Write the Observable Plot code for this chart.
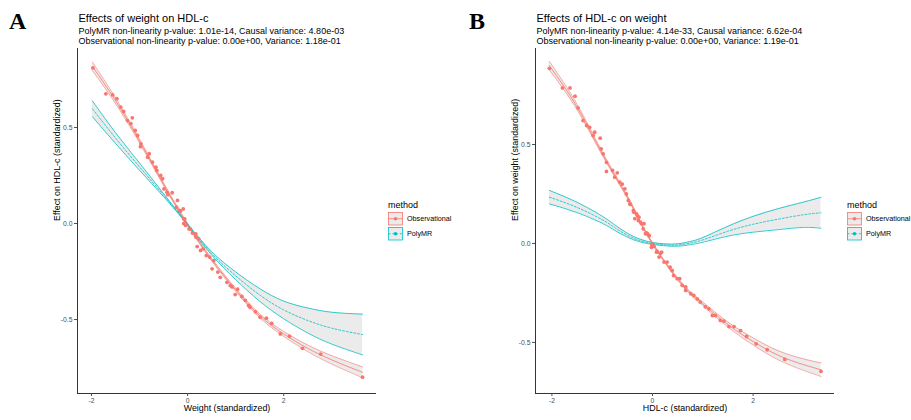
<!DOCTYPE html>
<html><head><meta charset="utf-8">
<script src="https://cdn.jsdelivr.net/npm/d3@7"></script>
<script src="https://cdn.jsdelivr.net/npm/@observablehq/plot@0.6"></script>
<style>
body{margin:0;background:#fff;}
#wrap{position:relative;width:911px;height:420px;overflow:hidden;background:#fff;font-family:"Liberation Sans",Arial,sans-serif;}
.panel{position:absolute;top:0;}
.legend{position:absolute;}
#tags{position:absolute;left:0;top:0;}
</style></head><body><div id="wrap"></div>
<script>
const RED = "#F8766D", CYAN = "#00BFC4";
const methods = ["Observational", "PolyMR"];
const legendTitle = "method";
const tags = ["A", "B"];

// ---------- Panel A: Effects of weight on HDL-c ----------
const titleA = "Effects of weight on HDL-c";
const subA1 = "PolyMR non-linearity p-value: 1.01e-14, Causal variance: 4.80e-03";
const subA2 = "Observational non-linearity p-value: 0.00e+00, Variance: 1.18e-01";
const xLabelA = "Weight (standardized)";
const yLabelA = "Effect on HDL-c (standardized)";
const xTicksA = [-2, 0, 2];
const yTicksA = [-0.5, 0, 0.5];

const ptsA_x = [-1.97,-1.70,-1.56,-1.47,-1.39,-1.33,-1.25,-1.18,-1.15,-1.09,-1.04,-0.97,-0.98,-0.80,-0.83,-0.73,-0.66,-0.64,-0.56,-0.52,-0.49,-0.43,-0.32,-0.41,-0.21,-0.23,-0.17,-0.145,-0.09,-0.08,-0.06,-0.08,-0.04,0.03,0.06,0.10,0.17,0.17,0.23,0.20,0.27,0.325,0.39,0.46,0.545,0.51,0.63,0.68,0.82,0.89,0.925,1.04,0.99,1.13,1.20,1.27,1.30,1.41,1.51,1.64,1.75,1.93,2.12,2.39,2.77,3.64];
const ptsA_y = [0.81,0.675,0.67,0.65,0.606,0.583,0.536,0.52,0.55,0.484,0.458,0.415,0.40,0.363,0.345,0.32,0.293,0.276,0.25,0.233,0.18,0.163,0.16,0.15,0.12,0.085,0.068,0.065,0.076,0.024,0.024,0.0,-0.01,-0.028,-0.028,-0.05,-0.054,-0.07,-0.08,-0.12,-0.14,-0.132,-0.167,-0.175,-0.193,-0.236,-0.253,-0.28,-0.306,-0.323,-0.33,-0.342,-0.37,-0.38,-0.40,-0.427,-0.436,-0.46,-0.488,-0.493,-0.52,-0.575,-0.587,-0.65,-0.68,-0.80];

const obsA_x   = [-1.98, -1.5, -1.0, -0.5, 0, 0.5, 1.0, 1.5, 2.0, 2.5, 3.0, 3.64];
const obsA_fit = [0.818, 0.64, 0.43, 0.205, -0.005, -0.188, -0.345, -0.48, -0.575, -0.65, -0.71, -0.775];
const obsA_lo  = [0.796, 0.625, 0.420, 0.198, -0.011, -0.195, -0.353, -0.490, -0.588, -0.667, -0.732, -0.803];
const obsA_hi  = [0.840, 0.655, 0.440, 0.212, 0.001, -0.181, -0.337, -0.470, -0.562, -0.633, -0.688, -0.747];

const polyA_x   = [-1.98, -1.5, -1.0, -0.5, 0, 0.5, 1.0, 1.5, 2.0, 2.5, 3.0, 3.64];
const polyA_fit = [0.597, 0.445, 0.295, 0.148, -0.005, -0.155, -0.272, -0.372, -0.45, -0.505, -0.545, -0.578];
const polyA_lo  = [0.556, 0.417, 0.277, 0.140, -0.008, -0.164, -0.292, -0.405, -0.496, -0.570, -0.628, -0.684];
const polyA_hi  = [0.638, 0.473, 0.315, 0.156, -0.002, -0.146, -0.252, -0.339, -0.404, -0.440, -0.462, -0.472];

// ---------- Panel B: Effects of HDL-c on weight ----------
const titleB = "Effects of HDL-c on weight";
const subB1 = "PolyMR non-linearity p-value: 4.14e-33, Causal variance: 6.62e-04";
const subB2 = "Observational non-linearity p-value: 0.00e+00, Variance: 1.19e-01";
const xLabelB = "HDL-c (standardized)";
const yLabelB = "Effect on weight (standardized)";
const xTicksB = [-2, 0, 2];
const yTicksB = [-0.5, 0, 0.5];

const ptsB_x = [-2.05,-1.79,-1.64,-1.54,-1.48,-1.38,-1.31,-1.25,-1.18,-1.15,-1.04,-1.02,-0.98,-0.915,-0.915,-0.795,-0.75,-0.70,-0.65,-0.60,-0.55,-0.52,-0.48,-0.45,-0.44,-0.38,-0.37,-0.35,-0.32,-0.30,-0.28,-0.27,-0.24,-0.22,-0.185,-0.17,-0.14,-0.12,-0.10,-0.07,-0.066,-0.02,-0.01,0.01,0.03,0.08,0.09,0.13,0.16,0.18,0.23,0.29,0.35,0.39,0.42,0.49,0.54,0.59,0.66,0.66,0.76,0.82,0.89,0.95,1.05,1.12,1.19,1.25,1.35,1.42,1.52,1.62,1.75,1.87,2.06,2.28,2.63,3.35];
const ptsB_y = [0.885,0.786,0.786,0.744,0.685,0.621,0.596,0.587,0.545,0.562,0.532,0.478,0.453,0.41,0.364,0.369,0.335,0.357,0.31,0.30,0.276,0.25,0.217,0.20,0.197,0.167,0.158,0.125,0.15,0.141,0.116,0.133,0.108,0.10,0.074,0.10,0.049,0.054,0.049,0.04,0.04,-0.019,-0.005,-0.01,-0.015,-0.044,-0.039,-0.069,-0.049,-0.044,-0.094,-0.094,-0.12,-0.136,-0.162,-0.178,-0.178,-0.212,-0.22,-0.237,-0.254,-0.263,-0.28,-0.296,-0.32,-0.33,-0.364,-0.364,-0.389,-0.392,-0.42,-0.42,-0.44,-0.47,-0.507,-0.537,-0.586,-0.646];

const obsB_x   = [-2.05, -1.5, -1.0, -0.5, -0.25, 0, 0.25, 0.5, 0.75, 1.0, 1.5, 2.0, 2.5, 3.0, 3.35];
const obsB_fit = [0.898, 0.69, 0.455, 0.235, 0.112, 0.0, -0.095, -0.18, -0.25, -0.305, -0.41, -0.495, -0.565, -0.612, -0.638];
const obsB_lo  = [0.876, 0.676, 0.446, 0.229, 0.107, -0.005, -0.100, -0.186, -0.257, -0.314, -0.423, -0.513, -0.588, -0.641, -0.672];
const obsB_hi  = [0.920, 0.704, 0.464, 0.241, 0.117, 0.005, -0.090, -0.174, -0.243, -0.296, -0.397, -0.477, -0.542, -0.583, -0.604];

const polyB_x   = [-2.05, -1.5, -1.0, -0.75, -0.5, -0.25, 0, 0.25, 0.5, 0.75, 1.0, 1.5, 2.0, 2.5, 3.0, 3.35];
const polyB_fit = [0.234, 0.182, 0.12, 0.08, 0.042, 0.015, 0.0, -0.007, -0.008, 0.002, 0.018, 0.062, 0.097, 0.123, 0.145, 0.155];
const polyB_lo  = [0.200, 0.156, 0.102, 0.066, 0.032, 0.008, -0.005, -0.012, -0.014, -0.006, 0.006, 0.037, 0.057, 0.070, 0.081, 0.077];
const polyB_hi  = [0.268, 0.208, 0.138, 0.094, 0.052, 0.022, 0.005, -0.002, -0.002, 0.010, 0.030, 0.087, 0.137, 0.176, 0.209, 0.233];

// ---------- drawing ----------
const FONT = '"Liberation Sans", Arial, Helvetica, sans-serif';

function rows(xs, fit, lo, hi) {
  return xs.map((x, i) => ({x, fit: fit[i], lo: lo[i], hi: hi[i]}));
}

function panel(cfg) {
  const obs = rows(cfg.obsX, cfg.obsFit, cfg.obsLo, cfg.obsHi);
  const poly = rows(cfg.polyX, cfg.polyFit, cfg.polyLo, cfg.polyHi);
  const pts = cfg.ptsX.map((x, i) => ({x, y: cfg.ptsY[i]}));
  const curve = "natural";
  const T = d => d;
  return Plot.plot({
    width: 380, height: 420,
    marginLeft: 77, marginRight: 4, marginTop: 48, marginBottom: 27,
    x: {domain: cfg.xDomain},
    y: {domain: cfg.yDomain},
    style: {fontFamily: FONT, background: "transparent", overflow: "visible"},
    marks: [
      Plot.areaY(poly, {x: "x", y1: "lo", y2: "hi", fill: "#999999", fillOpacity: 0.2, curve}),
      Plot.areaY(obs, {x: "x", y1: "lo", y2: "hi", fill: "#999999", fillOpacity: 0.2, curve}),
      Plot.line(obs, {x: "x", y: "lo", stroke: RED, strokeWidth: 0.6, curve}),
      Plot.line(obs, {x: "x", y: "hi", stroke: RED, strokeWidth: 0.6, curve}),
      Plot.line(poly, {x: "x", y: "lo", stroke: CYAN, strokeWidth: 0.8, curve}),
      Plot.line(poly, {x: "x", y: "hi", stroke: CYAN, strokeWidth: 0.8, curve}),
      Plot.line(obs, {x: "x", y: "fit", stroke: RED, strokeWidth: 0.8, curve}),
      Plot.line(poly, {x: "x", y: "fit", stroke: CYAN, strokeWidth: 0.8, strokeDasharray: "2,1.8", curve}),
      Plot.dot(pts, {x: "x", y: "y", r: 1.9, fill: RED, stroke: "none"}),
      Plot.ruleX([cfg.xDomain[0]], {stroke: "#000", strokeWidth: 0.8}),
      Plot.ruleY([cfg.yDomain[0]], {stroke: "#000", strokeWidth: 0.8}),
      Plot.axisX({ticks: cfg.xTicks, tickSize: 3, tickPadding: 2, tickFormat: d => String(d), fontSize: 6.8, color: "#4d4d4d", label: null}),
      Plot.axisY({ticks: cfg.yTicks, tickSize: 3, tickPadding: 2, tickFormat: d => d.toFixed(1), fontSize: 6.8, color: "#4d4d4d", label: null}),
      Plot.text([cfg.xLabel], {text: T, frameAnchor: "bottom", dy: 17, fontSize: 8.9, fill: "#000"}),
      Plot.text([cfg.yLabel], {text: T, frameAnchor: "left", dx: -20, rotate: -90, fontSize: 8.9, fill: "#000"}),
      Plot.text([cfg.title], {text: T, frameAnchor: "top-left", dx: 1, dy: -34, textAnchor: "start", fontSize: 11, fill: "#000"}),
      Plot.text([cfg.sub1], {text: T, frameAnchor: "top-left", dx: 1, dy: -21, textAnchor: "start", fontSize: 9, fill: "#000"}),
      Plot.text([cfg.sub2], {text: T, frameAnchor: "top-left", dx: 1, dy: -10.5, textAnchor: "start", fontSize: 9, fill: "#000"})
    ]
  });
}

function legend() {
  const colors = [RED, CYAN];
  const svg = d3.create("svg").attr("width", 80).attr("height", 48)
    .style("font-family", FONT).style("overflow", "visible");
  svg.append("text").attr("x", 2).attr("y", 10).attr("font-size", 9).attr("fill", "#000").text(legendTitle);
  methods.forEach((m, i) => {
    const y0 = 14.5 + i * 15, cy = y0 + 6.25;
    svg.append("rect").attr("x", 2.5).attr("y", y0).attr("width", 14).attr("height", 12.5)
      .attr("fill", "#999999").attr("fill-opacity", 0.2).attr("stroke", colors[i]).attr("stroke-width", 0.8);
    svg.append("line").attr("x1", 2.5).attr("x2", 16.5).attr("y1", cy).attr("y2", cy)
      .attr("stroke", colors[i]).attr("stroke-width", 0.8)
      .attr("stroke-dasharray", i === 1 ? "2,1.8" : null);
    svg.append("circle").attr("cx", 9.5).attr("cy", cy).attr("r", 1.8).attr("fill", colors[i]);
    svg.append("text").attr("x", 21).attr("y", cy).attr("dy", "0.35em").attr("font-size", 7.2).attr("fill", "#000").text(m);
  });
  return svg.node();
}

const wrap = document.getElementById("wrap");

const A = panel({
  title: titleA, sub1: subA1, sub2: subA2, xLabel: xLabelA, yLabel: yLabelA,
  xTicks: xTicksA, yTicks: yTicksA, xDomain: [-2.29, 3.93], yDomain: [-0.885, 0.911],
  ptsX: ptsA_x, ptsY: ptsA_y,
  obsX: obsA_x, obsFit: obsA_fit, obsLo: obsA_lo, obsHi: obsA_hi,
  polyX: polyA_x, polyFit: polyA_fit, polyLo: polyA_lo, polyHi: polyA_hi
});
A.classList.add("panel"); A.style.left = "0px";
wrap.appendChild(A);

const B = panel({
  title: titleB, sub1: subB1, sub2: subB2, xLabel: xLabelB, yLabel: yLabelB,
  xTicks: xTicksB, yTicks: yTicksB, xDomain: [-2.326, 3.618], yDomain: [-0.758, 0.985],
  ptsX: ptsB_x, ptsY: ptsB_y,
  obsX: obsB_x, obsFit: obsB_fit, obsLo: obsB_lo, obsHi: obsB_hi,
  polyX: polyB_x, polyFit: polyB_fit, polyLo: polyB_lo, polyHi: polyB_hi
});
B.classList.add("panel"); B.style.left = "458px";
wrap.appendChild(B);

const lA = legend(); lA.classList.add("legend"); lA.style.left = "386px"; lA.style.top = "198px"; wrap.appendChild(lA);
const lB = legend(); lB.classList.add("legend"); lB.style.left = "845px"; lB.style.top = "198px"; wrap.appendChild(lB);

const tagSvg = d3.create("svg").attr("id", "tags").attr("width", 911).attr("height", 60);
tagSvg.selectAll("text").data(tags).join("text")
  .attr("x", (d, i) => i === 0 ? 9 : 469).attr("y", 29)
  .attr("font-family", '"Liberation Serif", "Times New Roman", serif')
  .attr("font-weight", "bold").attr("font-size", 24).attr("fill", "#000").text(d => d);
wrap.appendChild(tagSvg.node());
</script></body></html>
